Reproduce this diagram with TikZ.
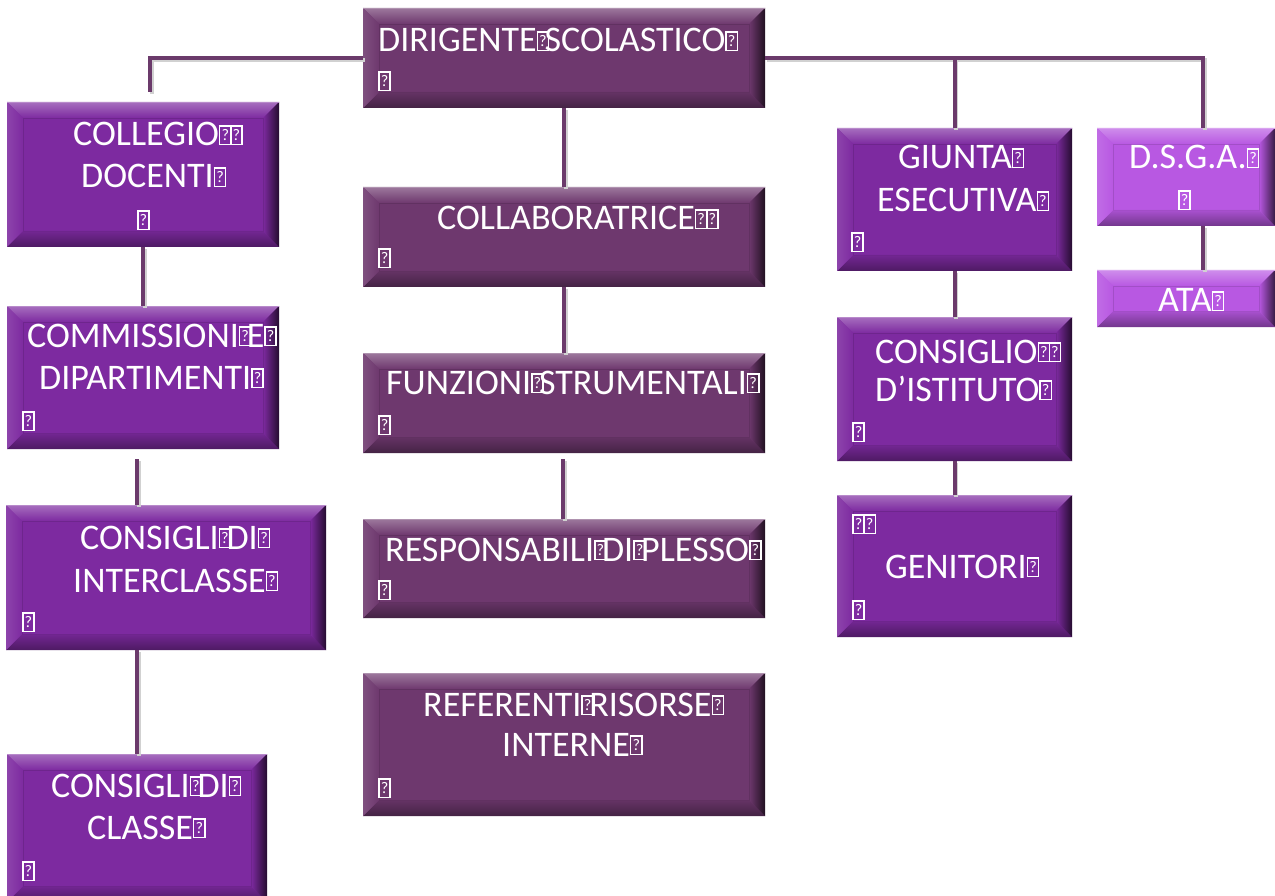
\documentclass[tikz,border=0pt]{standalone}
\usepackage{fontspec}
\setmainfont{Carlito}
\usepackage{graphicx}
\usetikzlibrary{fit,calc}
\definecolor{cmauve}{RGB}{110,56,110}
\definecolor{cpurp}{RGB}{125,42,160}
\definecolor{clilac}{RGB}{184,88,226}
\definecolor{cline}{RGB}{107,58,107}
\newcommand\qglyph{\raisebox{0.06em}{\setlength\fboxsep{0pt}\setlength\fboxrule{0.04em}\fbox{\makebox[0.27em]{\rule{0pt}{0.47em}\raisebox{0.1em}{\scalebox{0.45}{?}}}}}}
\newcommand\qb{\makebox[0.22em][l]{\qglyph}}
\newcommand\qq{\makebox[0.31em][l]{\qglyph}\qglyph}
\newcommand\bevbox[6]{%
  \fill[#2] (#3,#4) rectangle (#5,#6);
  \shade[top color=#2!68!white, bottom color=#2] (#3,#4) -- (#5,#4) -- ({#5-16},{#4+16}) -- ({#3+16},{#4+16}) -- cycle;
  \shade[top color=#2!92!black, bottom color=#2!62!black] (#3,#6) -- (#5,#6) -- ({#5-16},{#6-16}) -- ({#3+16},{#6-16}) -- cycle;
  \shade[left color=#2!88!white, right color=#2] (#3,#4) -- ({#3+16},{#4+16}) -- ({#3+16},{#6-16}) -- (#3,#6) -- cycle;
  \shade[left color=#2, middle color=#2!82!black, right color=#2!30!black] (#5,#4) -- ({#5-16},{#4+16}) -- ({#5-16},{#6-16}) -- (#5,#6) -- cycle;
  \draw[#2!55!white, line width=1] (#3,{#4+0.5}) -- (#5,{#4+0.5});
  \draw[#2!88!black, line width=0.8] ({#3+16},{#4+16}) rectangle ({#5-16},{#6-16});
  \node[fit={(#3,#4) (#5,#6)}, inner sep=0] (#1) {};
}
\tikzset{
  lbl/.style={text=white, font=\fontsize{36}{42}\selectfont, inner sep=0, anchor=base west},
  conn/.style={draw=cline, line width=4, preaction={draw=black!18, line width=4, transform canvas={xshift=1.8pt,yshift=-1.8pt}}}
}
\begin{document}
\begin{tikzpicture}[x=1pt,y=-1pt]
\useasboundingbox (0,0) rectangle (1275,896);
\clip (0,0) rectangle (1275,896);
\fill[white] (0,0) rectangle (1275,896);
\coordinate (c1) at (150,92);
\coordinate (c2) at (1203,128);
\coordinate (c4) at (563,459);
\coordinate (c5) at (137,459);
% boxes
\bevbox{dir}{cmauve}{363}{8}{765}{108}
\bevbox{coll}{cpurp}{7}{102}{279}{247}
\bevbox{comm}{cpurp}{7}{306}{279}{449}
\bevbox{inter}{cpurp}{6}{505}{326}{650}
\bevbox{classe}{cpurp}{7}{754}{267}{902}
\bevbox{collab}{cmauve}{363}{187}{765}{287}
\bevbox{funz}{cmauve}{363}{353}{765}{453}
\bevbox{resp}{cmauve}{363}{519}{765}{618}
\bevbox{ref}{cmauve}{363}{673}{765}{816}
\bevbox{giunta}{cpurp}{837}{128}{1072}{271}
\bevbox{dsga}{clilac}{1097}{128}{1275}{226}
\bevbox{ata}{clilac}{1097}{270}{1275}{327}
\bevbox{cons}{cpurp}{837}{317}{1072}{461}
\bevbox{gen}{cpurp}{837}{495}{1072}{637}
% connectors
\draw[conn] (dir.west) -| (c1);
\draw[conn] (dir.east) -| (c2);
\draw[conn] (giunta.north |- dir.east) -- (giunta.north);
\draw[conn] (dsga.south -| c2) -- (ata.north -| c2);
\draw[conn] (dir.south) -- (collab.north);
\draw[conn] (collab.south) -- (funz.north);
\draw[conn] (c4) -- (c4 |- resp.north);
\draw[conn] (coll.south) -- (comm.north);
\draw[conn] (c5) -- (c5 |- inter.north);
\draw[conn] (inter.south -| classe.north) -- (classe.north);
\draw[conn] (giunta.south) -- (cons.north);
\draw[conn] (cons.south) -- (gen.north);
% texts
\node[lbl] (tdir1) at (378,52) {DIRIGENTE\qb SCOLASTICO\qglyph};
\node[lbl] (tdir2) at (378,92) {\qglyph};
\node[lbl] (tcoll1) at (73,146) {COLLEGIO\qq};
\node[lbl] (tcoll2) at (81,188) {DOCENTI\qglyph};
\node[lbl] (tcoll3) at (137,231) {\qglyph};
\node[lbl] (tcomm1) at (27,347) {COMMISSIONI\qb E\qglyph};
\node[lbl] (tcomm2) at (39,389) {DIPARTIMENTI\qglyph};
\node[lbl] (tcomm3) at (22,432) {\qglyph};
\node[lbl] (tint1) at (80,549) {CONSIGLI\qb DI\qglyph};
\node[lbl] (tint2) at (73,592) {INTERCLASSE\qglyph};
\node[lbl] (tint3) at (22,633) {\qglyph};
\node[lbl] (tcla1) at (51,797) {CONSIGLI\qb DI\qglyph};
\node[lbl] (tcla2) at (87,839) {CLASSE\qglyph};
\node[lbl] (tcla3) at (22,882) {\qglyph};
\node[lbl] (tcol1) at (437,230) {COLLABORATRICE\qq};
\node[lbl] (tcol2) at (378,269) {\qglyph};
\node[lbl] (tfun1) at (386,394) {FUNZIONI\qb STRUMENTALI\qglyph};
\node[lbl] (tfun2) at (378,436) {\qglyph};
\node[lbl] (tres1) at (385,561) {RESPONSABILI\qb DI\qb PLESSO\qglyph};
\node[lbl] (tres2) at (378,601) {\qglyph};
\node[lbl] (tref1) at (423,716) {REFERENTI\qb RISORSE\qglyph};
\node[lbl] (tref2) at (502,756) {INTERNE\qglyph};
\node[lbl] (tref3) at (378,799) {\qglyph};
\node[lbl] (tgiu1) at (898,169) {GIUNTA\qglyph};
\node[lbl] (tgiu2) at (877,212) {ESECUTIVA\qglyph};
\node[lbl] (tgiu3) at (851,253) {\qglyph};
\node[lbl] (tdsg1) at (1129,169) {D.S.G.A.\qglyph};
\node[lbl] (tdsg2) at (1178,211) {\qglyph};
\node[lbl] (tata1) at (1158,312) {ATA\qglyph};
\node[lbl] (tcon1) at (875,363) {CONSIGLIO\qq};
\node[lbl] (tcon2) at (875,401) {D’ISTITUTO\qglyph};
\node[lbl] (tcon3) at (852,443) {\qglyph};
\node[lbl] (tgen1) at (852,535) {\qq};
\node[lbl] (tgen2) at (885,578) {GENITORI\qglyph};
\node[lbl] (tgen3) at (852,621) {\qglyph};
\end{tikzpicture}
\end{document}
